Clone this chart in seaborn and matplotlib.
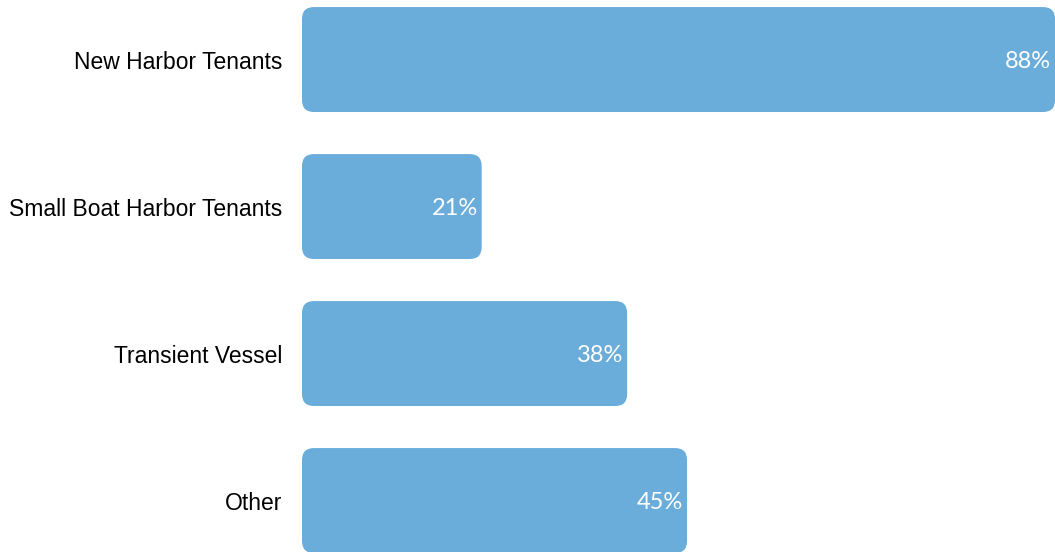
import pandas as pd
import seaborn as sns
import matplotlib.pyplot as plt
from matplotlib.patches import FancyBboxPatch

categories = ["New Harbor Tenants", "Small Boat Harbor Tenants", "Transient Vessel", "Other"]
values = [88, 21, 38, 45]
labels = ["88%", "21%", "38%", "45%"]

df = pd.DataFrame({"group": categories, "pct": values})

sns.set_style("white")
plt.rcParams['font.family'] = ['Liberation Sans', 'DejaVu Sans']

fig = plt.figure(figsize=(10.55, 5.52), dpi=100)
ax = fig.add_axes([302 / 1055, 0, 1 - 302 / 1055, 1])

sns.barplot(data=df, x="pct", y="group", orient="h", color="#6aaddb",
            saturation=1, width=0.714, ax=ax)

ax.set_xlim(0, 88)
ax.set_ylim(3.35, -0.405)

# swap the square bars for rounded ones
rx = 1.4
ry = 0.082
for p in list(ax.patches):
    x, y = p.get_x(), p.get_y()
    w, h = p.get_width(), p.get_height()
    p.remove()
    fb = FancyBboxPatch((x, y), w, h,
                        boxstyle=f"round,pad=0,rounding_size={rx}",
                        mutation_aspect=ry / rx,
                        facecolor="#6aaddb", edgecolor="none", clip_on=False,
                        zorder=1)
    ax.add_patch(fb)

for i, (v, lab) in enumerate(zip(values, labels)):
    ax.text(v - 0.45, i + 0.01, lab, ha="right", va="center", color="white",
            fontsize=17, family=['Lato', 'DejaVu Sans'], zorder=5)

ax.set_xlabel("")
ax.set_ylabel("")
ax.set_xticks([])
ax.tick_params(axis="y", length=0, pad=14, labelsize=16.5, labelcolor="black")
sns.despine(ax=ax, left=True, bottom=True)

plt.savefig("out.png", dpi=100)
plt.close()
